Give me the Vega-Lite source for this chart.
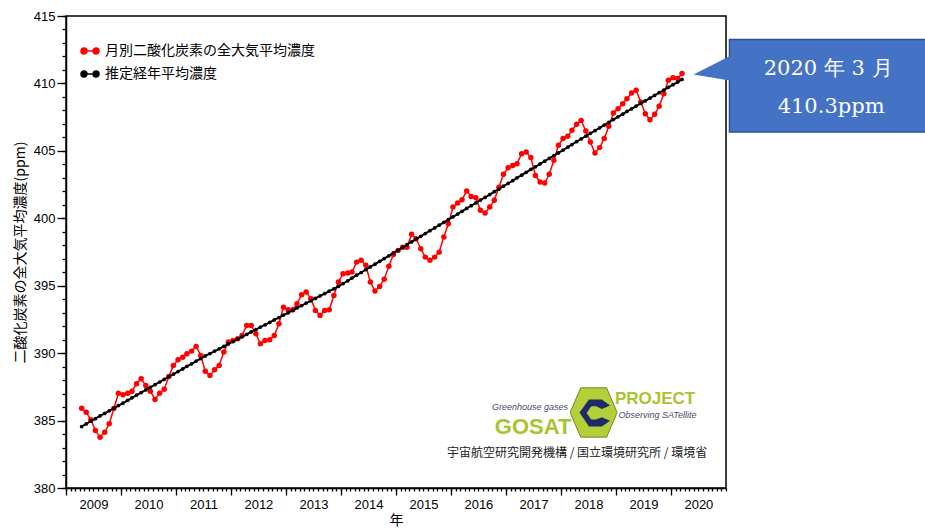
{
  "$schema": "https://vega.github.io/schema/vega-lite/v6.json",
  "width": 660,
  "height": 472,
  "autosize": {"type": "none"},
  "padding": {"left": 66, "top": 16, "right": 199, "bottom": 44},
  "background": "white",
  "config": {
    "view": {"stroke": "black", "strokeWidth": 1.5},
    "axis": {
      "labelFont": "Liberation Sans", "labelFontSize": 13, "labelColor": "#000",
      "tickColor": "#000", "domainColor": "#000", "tickWidth": 1.3, "domainWidth": 1.5,
      "titleFont": "Noto Sans CJK JP", "titleFontSize": 14, "titleFontWeight": "normal", "titleColor": "#000",
      "grid": false
    },
    "legend": {
      "labelFont": "Noto Sans CJK JP", "labelFontSize": 14, "labelColor": "#000", "labelLimit": 400,
      "padding": 0, "rowPadding": 6, "labelOffset": 5
    }
  },
  "datasets": {
    "co2": [
      {"d":"2009-04-15","m":385.92,"t":384.56},{"d":"2009-05-15","m":385.62,"t":384.75},{"d":"2009-06-15","m":385.06,"t":384.95},
      {"d":"2009-07-15","m":384.27,"t":385.14},{"d":"2009-08-15","m":383.77,"t":385.34},{"d":"2009-09-15","m":384.14,"t":385.53},
      {"d":"2009-10-15","m":384.76,"t":385.72},{"d":"2009-11-15","m":385.90,"t":385.92},{"d":"2009-12-15","m":387.03,"t":386.11},
      {"d":"2010-01-15","m":386.91,"t":386.30},{"d":"2010-02-15","m":387.03,"t":386.50},{"d":"2010-03-15","m":387.18,"t":386.69},
      {"d":"2010-04-15","m":387.73,"t":386.89},{"d":"2010-05-15","m":388.10,"t":387.08},{"d":"2010-06-15","m":387.60,"t":387.27},
      {"d":"2010-07-15","m":387.18,"t":387.47},{"d":"2010-08-15","m":386.57,"t":387.66},{"d":"2010-09-15","m":387.03,"t":387.86},
      {"d":"2010-10-15","m":387.33,"t":388.05},{"d":"2010-11-15","m":388.27,"t":388.25},{"d":"2010-12-15","m":389.09,"t":388.44},
      {"d":"2011-01-15","m":389.51,"t":388.63},{"d":"2011-02-15","m":389.70,"t":388.83},{"d":"2011-03-15","m":389.95,"t":389.02},
      {"d":"2011-04-15","m":390.15,"t":389.21},{"d":"2011-05-15","m":390.50,"t":389.41},{"d":"2011-06-15","m":389.83,"t":389.60},
      {"d":"2011-07-15","m":388.66,"t":389.79},{"d":"2011-08-15","m":388.35,"t":389.97},{"d":"2011-09-15","m":388.77,"t":390.15},
      {"d":"2011-10-15","m":389.09,"t":390.32},{"d":"2011-11-15","m":390.08,"t":390.50},{"d":"2011-12-15","m":390.82,"t":390.68},
      {"d":"2012-01-15","m":390.94,"t":390.86},{"d":"2012-02-15","m":391.07,"t":391.04},{"d":"2012-03-15","m":391.31,"t":391.21},
      {"d":"2012-04-15","m":392.05,"t":391.39},{"d":"2012-05-15","m":392.05,"t":391.57},{"d":"2012-06-15","m":391.44,"t":391.75},
      {"d":"2012-07-15","m":390.70,"t":391.93},{"d":"2012-08-15","m":390.94,"t":392.10},{"d":"2012-09-15","m":391.00,"t":392.28},
      {"d":"2012-10-15","m":391.31,"t":392.46},{"d":"2012-11-15","m":392.18,"t":392.64},{"d":"2012-12-15","m":393.41,"t":392.82},
      {"d":"2013-01-15","m":393.22,"t":392.99},{"d":"2013-02-15","m":393.22,"t":393.17},{"d":"2013-03-15","m":393.67,"t":393.35},
      {"d":"2013-04-15","m":394.33,"t":393.53},{"d":"2013-05-15","m":394.53,"t":393.71},{"d":"2013-06-15","m":394.04,"t":393.88},
      {"d":"2013-07-15","m":393.17,"t":394.06},{"d":"2013-08-15","m":392.80,"t":394.24},{"d":"2013-09-15","m":393.17,"t":394.42},
      {"d":"2013-10-15","m":393.22,"t":394.60},{"d":"2013-11-15","m":394.28,"t":394.77},{"d":"2013-12-15","m":395.27,"t":394.95},
      {"d":"2014-01-15","m":395.89,"t":395.16},{"d":"2014-02-15","m":395.94,"t":395.36},{"d":"2014-03-15","m":396.01,"t":395.57},
      {"d":"2014-04-15","m":396.75,"t":395.78},{"d":"2014-05-15","m":396.88,"t":395.98},{"d":"2014-06-15","m":396.51,"t":396.19},
      {"d":"2014-07-15","m":395.27,"t":396.39},{"d":"2014-08-15","m":394.60,"t":396.60},{"d":"2014-09-15","m":394.95,"t":396.81},
      {"d":"2014-10-15","m":395.48,"t":397.01},{"d":"2014-11-15","m":396.45,"t":397.22},{"d":"2014-12-15","m":397.32,"t":397.43},
      {"d":"2015-01-15","m":397.62,"t":397.63},{"d":"2015-02-15","m":397.86,"t":397.84},{"d":"2015-03-15","m":397.86,"t":398.04},
      {"d":"2015-04-15","m":398.81,"t":398.25},{"d":"2015-05-15","m":398.49,"t":398.46},{"d":"2015-06-15","m":397.74,"t":398.66},
      {"d":"2015-07-15","m":397.12,"t":398.87},{"d":"2015-08-15","m":396.88,"t":399.08},{"d":"2015-09-15","m":397.12,"t":399.28},
      {"d":"2015-10-15","m":397.49,"t":399.49},{"d":"2015-11-15","m":398.61,"t":399.69},{"d":"2015-12-15","m":399.60,"t":399.90},
      {"d":"2016-01-15","m":400.83,"t":400.11},{"d":"2016-02-15","m":401.13,"t":400.31},{"d":"2016-03-15","m":401.38,"t":400.52},
      {"d":"2016-04-15","m":402.02,"t":400.73},{"d":"2016-05-15","m":401.62,"t":400.93},{"d":"2016-06-15","m":401.53,"t":401.14},
      {"d":"2016-07-15","m":400.59,"t":401.35},{"d":"2016-08-15","m":400.39,"t":401.55},{"d":"2016-09-15","m":400.83,"t":401.76},
      {"d":"2016-10-15","m":401.33,"t":401.97},{"d":"2016-11-15","m":402.31,"t":402.17},{"d":"2016-12-15","m":403.26,"t":402.38},
      {"d":"2017-01-15","m":403.75,"t":402.58},{"d":"2017-02-15","m":403.92,"t":402.79},{"d":"2017-03-15","m":404.05,"t":403.00},
      {"d":"2017-04-15","m":404.79,"t":403.20},{"d":"2017-05-15","m":404.91,"t":403.41},{"d":"2017-06-15","m":404.50,"t":403.62},
      {"d":"2017-07-15","m":403.18,"t":403.82},{"d":"2017-08-15","m":402.69,"t":404.03},{"d":"2017-09-15","m":402.61,"t":404.23},
      {"d":"2017-10-15","m":403.26,"t":404.44},{"d":"2017-11-15","m":404.30,"t":404.65},{"d":"2017-12-15","m":405.41,"t":404.85},
      {"d":"2018-01-15","m":405.91,"t":405.06},{"d":"2018-02-15","m":406.08,"t":405.27},{"d":"2018-03-15","m":406.52,"t":405.47},
      {"d":"2018-04-15","m":406.97,"t":405.68},{"d":"2018-05-15","m":407.26,"t":405.88},{"d":"2018-06-15","m":406.47,"t":406.09},
      {"d":"2018-07-15","m":405.65,"t":406.30},{"d":"2018-08-15","m":404.84,"t":406.50},{"d":"2018-09-15","m":405.24,"t":406.71},
      {"d":"2018-10-15","m":405.91,"t":406.91},{"d":"2018-11-15","m":406.82,"t":407.12},{"d":"2018-12-15","m":407.80,"t":407.32},
      {"d":"2019-01-15","m":408.13,"t":407.52},{"d":"2019-02-15","m":408.50,"t":407.72},{"d":"2019-03-15","m":408.87,"t":407.92},
      {"d":"2019-04-15","m":409.29,"t":408.12},{"d":"2019-05-15","m":409.49,"t":408.32},{"d":"2019-06-15","m":408.62,"t":408.52},
      {"d":"2019-07-15","m":407.76,"t":408.71},{"d":"2019-08-15","m":407.31,"t":408.91},{"d":"2019-09-15","m":407.71,"t":409.11},
      {"d":"2019-10-15","m":408.30,"t":409.31},{"d":"2019-11-15","m":409.24,"t":409.51},{"d":"2019-12-15","m":410.23,"t":409.71},
      {"d":"2020-01-15","m":410.43,"t":409.91},{"d":"2020-02-15","m":410.36,"t":410.10},{"d":"2020-03-15","m":410.73,"t":410.30}
    ],
    "box": [{"d":"2021-01-24","d2":"2025-06-01","v":413.25,"v2":406.39}],
    "pointer": [{"d":"2020-05-30","hi":410.67,"lo":410.67},{"d":"2021-02-04","hi":412.08,"lo":410.19}],
    "callout": [{"d":"2022-11-10","v":411.05,"label":"2020 年 3 月"},{"d":"2022-11-30","v":408.25,"label":"410.3ppm"}],
    "org": [{"d":"2020-08-29","v":382.63,"label":"宇宙航空研究開発機構 / 国立環境研究所 / 環境省"}],
    "smalllogo": [{"d":"2017-06-10","v":385.97,"label":"Greenhouse gases"},{"d":"2019-10-04","v":385.38,"label":"Observing SATellite"}],
    "gosat": [{"d":"2017-06-30","v":384.56,"label":"GOSAT"}],
    "project": [{"d":"2019-09-18","v":386.60,"label":"PROJECT"}],
    "hex": [{"d":"2018-08-06","v":385.60}]
  },
  "layer": [
    {
      "data": {"name": "co2"},
      "mark": {"type": "line", "strokeWidth": 1.5},
      "encoding": {
        "x": {"field": "d", "type": "temporal",
              "scale": {"type": "utc", "domain": [{"year": 2009, "utc": true}, {"year": 2021, "utc": true}], "nice": false},
              "axis": {"orient": "bottom", "values": [{"year":2009,"utc":true},{"year":2010,"utc":true},{"year":2011,"utc":true},{"year":2012,"utc":true},{"year":2013,"utc":true},{"year":2014,"utc":true},{"year":2015,"utc":true},{"year":2016,"utc":true},{"year":2017,"utc":true},{"year":2018,"utc":true},{"year":2019,"utc":true},{"year":2020,"utc":true}],
                       "format": "%Y", "labelOffset": 27.5, "tickSize": 7, "labelPadding": 3, "labelFlush": false, "labelOverlap": false,
                       "title": "年", "titlePadding": 2}},
        "y": {"field": "m", "type": "quantitative",
              "scale": {"domain": [380, 415], "zero": false, "nice": false},
              "axis": {"orient": "left", "values": [380, 385, 390, 395, 400, 405, 410, 415], "tickSize": 9, "labelPadding": 2,
                       "title": "二酸化炭素の全大気平均濃度(ppm)", "titlePadding": 6}},
        "color": {"datum": "月別二酸化炭素の全大気平均濃度",
                  "scale": {"domain": ["月別二酸化炭素の全大気平均濃度", "推定経年平均濃度"], "range": ["#ff0000", "#000000"]},
                  "legend": {"title": null, "orient": "none", "legendX": 14, "legendY": 25,
                             "symbolType": "M-1,0L1,0M-0.34,0A0.33,0.33,0,1,1,-1,0A0.33,0.33,0,1,1,-0.34,0M1,0A0.33,0.33,0,1,1,0.34,0A0.33,0.33,0,1,1,1,0",
                             "symbolSize": 324, "symbolStrokeWidth": 1.5,
                             "encode": {"symbols": {"update": {"fill": {"scale": "color", "field": "value"}, "stroke": {"scale": "color", "field": "value"}}}}}}
      }
    },
    {
      "data": {"name": "co2"},
      "mark": {"type": "point", "filled": true, "size": 30, "opacity": 1},
      "encoding": {
        "x": {"field": "d", "type": "temporal",
              "scale": {"type": "utc", "domain": [{"year": 2009, "utc": true}, {"year": 2021, "utc": true}], "nice": false},
              "axis": {"orient": "bottom", "tickCount": {"interval": "month", "step": 1}, "labels": false, "domain": false, "tickSize": 3, "title": null}},
        "y": {"field": "m", "type": "quantitative",
              "scale": {"domain": [380, 415], "zero": false, "nice": false},
              "axis": {"orient": "left", "values": [380,381,382,383,384,385,386,387,388,389,390,391,392,393,394,395,396,397,398,399,400,401,402,403,404,405,406,407,408,409,410,411,412,413,414,415],
                       "labels": false, "domain": false, "tickSize": 4, "title": null}},
        "color": {"datum": "月別二酸化炭素の全大気平均濃度"}
      }
    },
    {
      "data": {"name": "co2"},
      "mark": {"type": "line", "strokeWidth": 2},
      "encoding": {
        "x": {"field": "d", "type": "temporal", "scale": {"type": "utc", "domain": [{"year": 2009, "utc": true}, {"year": 2021, "utc": true}], "nice": false}, "axis": null},
        "y": {"field": "t", "type": "quantitative", "scale": {"domain": [380, 415], "zero": false, "nice": false}, "axis": null},
        "color": {"datum": "推定経年平均濃度"}
      }
    },
    {
      "data": {"name": "co2"},
      "mark": {"type": "point", "filled": true, "size": 14, "opacity": 1},
      "encoding": {
        "x": {"field": "d", "type": "temporal", "scale": {"type": "utc", "domain": [{"year": 2009, "utc": true}, {"year": 2021, "utc": true}], "nice": false}, "axis": null},
        "y": {"field": "t", "type": "quantitative", "scale": {"domain": [380, 415], "zero": false, "nice": false}, "axis": null},
        "color": {"datum": "推定経年平均濃度"}
      }
    },
    {
      "data": {"name": "box"},
      "mark": {"type": "rect", "fill": "#4472C4", "stroke": "#2F528F", "strokeWidth": 1.5},
      "encoding": {
        "x": {"field": "d", "type": "temporal", "scale": {"type": "utc", "domain": [{"year": 2009, "utc": true}, {"year": 2021, "utc": true}], "nice": false}, "axis": null},
        "x2": {"field": "d2"},
        "y": {"field": "v", "type": "quantitative", "scale": {"domain": [380, 415], "zero": false, "nice": false}, "axis": null},
        "y2": {"field": "v2"}
      }
    },
    {
      "data": {"name": "pointer"},
      "mark": {"type": "area", "fill": "#4472C4", "orient": "vertical"},
      "encoding": {
        "x": {"field": "d", "type": "temporal", "scale": {"type": "utc", "domain": [{"year": 2009, "utc": true}, {"year": 2021, "utc": true}], "nice": false}, "axis": null},
        "y": {"field": "hi", "type": "quantitative", "scale": {"domain": [380, 415], "zero": false, "nice": false}, "axis": null},
        "y2": {"field": "lo"}
      }
    },
    {
      "data": {"name": "callout"},
      "mark": {"type": "text", "font": "DejaVu Serif", "fontSize": 21, "color": "#ffffff", "align": "center", "baseline": "middle"},
      "encoding": {
        "x": {"field": "d", "type": "temporal", "scale": {"type": "utc", "domain": [{"year": 2009, "utc": true}, {"year": 2021, "utc": true}], "nice": false}, "axis": null},
        "y": {"field": "v", "type": "quantitative", "scale": {"domain": [380, 415], "zero": false, "nice": false}, "axis": null},
        "text": {"field": "label"}
      }
    },
    {
      "data": {"name": "org"},
      "mark": {"type": "text", "font": "Noto Sans CJK JP", "fontSize": 12, "color": "#222222", "align": "right", "baseline": "middle"},
      "encoding": {
        "x": {"field": "d", "type": "temporal", "scale": {"type": "utc", "domain": [{"year": 2009, "utc": true}, {"year": 2021, "utc": true}], "nice": false}, "axis": null},
        "y": {"field": "v", "type": "quantitative", "scale": {"domain": [380, 415], "zero": false, "nice": false}, "axis": null},
        "text": {"field": "label"}
      }
    },
    {
      "data": {"name": "smalllogo"},
      "mark": {"type": "text", "font": "Liberation Sans", "fontStyle": "italic", "fontSize": 9, "color": "#4a4a6a", "align": "center", "baseline": "middle"},
      "encoding": {
        "x": {"field": "d", "type": "temporal", "scale": {"type": "utc", "domain": [{"year": 2009, "utc": true}, {"year": 2021, "utc": true}], "nice": false}, "axis": null},
        "y": {"field": "v", "type": "quantitative", "scale": {"domain": [380, 415], "zero": false, "nice": false}, "axis": null},
        "text": {"field": "label"}
      }
    },
    {
      "data": {"name": "gosat"},
      "mark": {"type": "text", "font": "Liberation Sans", "fontWeight": "bold", "fontSize": 22, "color": "#A6C530", "align": "center", "baseline": "middle"},
      "encoding": {
        "x": {"field": "d", "type": "temporal", "scale": {"type": "utc", "domain": [{"year": 2009, "utc": true}, {"year": 2021, "utc": true}], "nice": false}, "axis": null},
        "y": {"field": "v", "type": "quantitative", "scale": {"domain": [380, 415], "zero": false, "nice": false}, "axis": null},
        "text": {"field": "label"}
      }
    },
    {
      "data": {"name": "project"},
      "mark": {"type": "text", "font": "Liberation Sans", "fontWeight": "bold", "fontSize": 17, "color": "#A6C530", "align": "center", "baseline": "middle"},
      "encoding": {
        "x": {"field": "d", "type": "temporal", "scale": {"type": "utc", "domain": [{"year": 2009, "utc": true}, {"year": 2021, "utc": true}], "nice": false}, "axis": null},
        "y": {"field": "v", "type": "quantitative", "scale": {"domain": [380, 415], "zero": false, "nice": false}, "axis": null},
        "text": {"field": "label"}
      }
    },
    {
      "data": {"name": "hex"},
      "mark": {"type": "point", "filled": true, "opacity": 1, "size": 2209, "color": "#B3CF3A", "stroke": "#6E8B1C", "strokeWidth": 1,
               "shape": "M-1,0L-0.55,-1.05L0.55,-1.05L1,0L0.55,1.05L-0.55,1.05Z"},
      "encoding": {
        "x": {"field": "d", "type": "temporal", "scale": {"type": "utc", "domain": [{"year": 2009, "utc": true}, {"year": 2021, "utc": true}], "nice": false}, "axis": null},
        "y": {"field": "v", "type": "quantitative", "scale": {"domain": [380, 415], "zero": false, "nice": false}, "axis": null}
      }
    },
    {
      "data": {"name": "hex"},
      "mark": {"type": "point", "filled": true, "opacity": 1, "size": 2209, "color": "#1F2A66",
               "shape": "M0.7,-0.3L0.35,-0.55L-0.2,-0.55L-0.6,0L-0.2,0.6L0.35,0.6L0.7,0.35L0.35,0.2L0.1,0.3L-0.1,0.3L-0.3,0.02L-0.1,-0.27L0.1,-0.27L0.35,-0.15Z"},
      "encoding": {
        "x": {"field": "d", "type": "temporal", "scale": {"type": "utc", "domain": [{"year": 2009, "utc": true}, {"year": 2021, "utc": true}], "nice": false}, "axis": null},
        "y": {"field": "v", "type": "quantitative", "scale": {"domain": [380, 415], "zero": false, "nice": false}, "axis": null}
      }
    }
  ],
  "resolve": {"axis": {"x": "independent", "y": "independent"}}
}
